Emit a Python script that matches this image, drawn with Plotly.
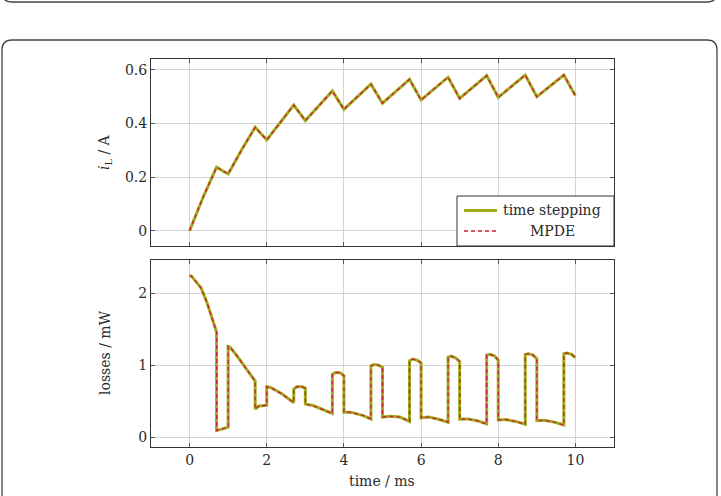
import plotly.graph_objects as go
from plotly.subplots import make_subplots

# ---------------- data ----------------
t_iL = [0.0, 0.35, 0.7, 1.0, 1.35, 1.7, 2.0, 2.7, 3.0, 3.7, 4.0, 4.7, 5.0,
        5.7, 6.0, 6.7, 7.0, 7.7, 8.0, 8.7, 9.0, 9.7, 10.0]
iL_ts = [0.0, 0.125, 0.237, 0.212, 0.302, 0.386, 0.339, 0.469, 0.411, 0.522,
         0.453, 0.547, 0.476, 0.565, 0.488, 0.573, 0.494, 0.579, 0.498, 0.581,
         0.500, 0.581, 0.504]
iL_mpde = [0.0, 0.125, 0.237, 0.212, 0.302, 0.386, 0.339, 0.469, 0.411, 0.522,
           0.453, 0.547, 0.476, 0.565, 0.488, 0.573, 0.494, 0.579, 0.498, 0.581,
           0.500, 0.581, 0.504]

t_loss = [0.0, 0.05, 0.15, 0.3, 0.45, 0.6, 0.7,
          0.7, 0.85, 1.0,
          1.0, 1.05, 1.2, 1.45, 1.7,
          1.7, 1.78, 2.0,
          2.0, 2.1, 2.4, 2.7,
          2.7, 2.78, 2.9, 3.0,
          3.0, 3.2, 3.5, 3.7,
          3.7, 3.78, 3.9, 4.0,
          4.0, 4.2, 4.5, 4.7,
          4.7, 4.78, 4.9, 5.0,
          5.0, 5.2, 5.45, 5.7,
          5.7, 5.78, 5.9, 6.0,
          6.0, 6.2, 6.45, 6.7,
          6.7, 6.78, 6.9, 7.0,
          7.0, 7.2, 7.45, 7.7,
          7.7, 7.78, 7.9, 8.0,
          8.0, 8.2, 8.45, 8.7,
          8.7, 8.78, 8.9, 9.0,
          9.0, 9.2, 9.45, 9.7,
          9.7, 9.78, 9.9, 10.0]
loss_ts = [2.245, 2.235, 2.17, 2.07, 1.87, 1.63, 1.46,
           0.093, 0.115, 0.14,
           1.26, 1.25, 1.15, 0.97, 0.78,
           0.39, 0.43, 0.445,
           0.70, 0.69, 0.60, 0.48,
           0.67, 0.70, 0.705, 0.68,
           0.46, 0.44, 0.38, 0.33,
           0.87, 0.90, 0.895, 0.855,
           0.35, 0.345, 0.30, 0.255,
           0.99, 1.01, 1.00, 0.97,
           0.28, 0.29, 0.28, 0.22,
           1.06, 1.085, 1.07, 1.03,
           0.27, 0.28, 0.25, 0.21,
           1.11, 1.125, 1.10, 1.05,
           0.25, 0.255, 0.23, 0.185,
           1.14, 1.15, 1.13, 1.07,
           0.24, 0.245, 0.22, 0.18,
           1.15, 1.16, 1.14, 1.09,
           0.23, 0.235, 0.21, 0.17,
           1.16, 1.17, 1.15, 1.105]
loss_mpde = list(loss_ts)

x_ticks = [0, 2, 4, 6, 8, 10]
y1_ticks = [0, 0.2, 0.4, 0.6]
y1_ticktext = ["0", "0.2", "0.4", "0.6"]
y2_ticks = [0, 1, 2]

# ---------------- style ----------------
W, H = 721, 496
FONT = "DejaVu Serif"
FS = 14
TXT = "#2a2a2a"
OLIVE = "#a2ab1e"
RED = "#c8202e"


def px(x):
    return x / W


def py(y):
    return 1 - y / H


fig = make_subplots(rows=2, cols=1, vertical_spacing=0.03)

fig.add_trace(go.Scatter(x=t_iL, y=iL_ts, mode="lines", name="time stepping",
                         line=dict(color=OLIVE, width=3), showlegend=False), row=1, col=1)
fig.add_trace(go.Scatter(x=t_iL, y=iL_mpde, mode="lines", name="MPDE",
                         line=dict(color=RED, width=1.3, dash="4px,3px"), showlegend=False), row=1, col=1)
fig.add_trace(go.Scatter(x=t_loss, y=loss_ts, mode="lines", name="time stepping",
                         line=dict(color=OLIVE, width=3), showlegend=False), row=2, col=1)
fig.add_trace(go.Scatter(x=t_loss, y=loss_mpde, mode="lines", name="MPDE",
                         line=dict(color=RED, width=1.3, dash="4px,3px"), showlegend=False), row=2, col=1)

axis_common = dict(showline=True, linecolor="#333333", linewidth=1, mirror="ticks",
                   ticks="inside", ticklen=4, tickcolor="#555555", tickwidth=1,
                   showgrid=True, gridcolor="#d4d4d4", gridwidth=1, zeroline=False,
                   tickfont=dict(family=FONT, size=FS, color=TXT))

xdom = [px(151), px(614)]
fig.update_xaxes(**axis_common, range=[-1, 11], tickvals=x_ticks, domain=xdom)
fig.update_xaxes(showticklabels=False, row=1, col=1)
fig.update_yaxes(**axis_common)
fig.update_yaxes(range=[-0.057, 0.641], tickvals=y1_ticks, ticktext=y1_ticktext,
                 domain=[py(246), py(59)], row=1, col=1)
fig.update_yaxes(range=[-0.135, 2.46], tickvals=y2_ticks,
                 domain=[py(447), py(260)], row=2, col=1)

shapes = []
# frame boxes (outer decoration)
r = 10
top_box = (f"M {px(2)},{py(-10)} L {px(2)},{py(2-r)} Q {px(2)},{py(2)} {px(2+r)},{py(2)} "
           f"L {px(717-r)},{py(2)} Q {px(717)},{py(2)} {px(717)},{py(2-r)} L {px(717)},{py(-10)}")
main_box = (f"M {px(2)},{py(510)} L {px(2)},{py(40+r)} Q {px(2)},{py(40)} {px(2+r)},{py(40)} "
            f"L {px(717-r)},{py(40)} Q {px(717)},{py(40)} {px(717)},{py(40+r)} L {px(717)},{py(510)}")
for p in (top_box, main_box):
    shapes.append(dict(type="path", path=p, xref="paper", yref="paper",
                       line=dict(color="#444444", width=1.3)))

# manual legend
shapes.append(dict(type="rect", xref="paper", yref="paper",
                   x0=px(457), x1=px(614), y0=py(246), y1=py(196),
                   fillcolor="white", line=dict(color="#333333", width=1), layer="above"))
shapes.append(dict(type="line", xref="paper", yref="paper",
                   x0=px(464), x1=px(497), y0=py(210.5), y1=py(210.5),
                   line=dict(color=OLIVE, width=3), layer="above"))
shapes.append(dict(type="line", xref="paper", yref="paper",
                   x0=px(464), x1=px(497), y0=py(231), y1=py(231),
                   line=dict(color=RED, width=1.3, dash="4px,3px"), layer="above"))

annotations = [
    dict(text="time stepping", x=px(552), y=py(210), xref="paper", yref="paper",
         showarrow=False, xanchor="center", yanchor="middle",
         font=dict(family=FONT, size=FS, color=TXT)),
    dict(text="MPDE", x=px(552), y=py(230.5), xref="paper", yref="paper",
         showarrow=False, xanchor="center", yanchor="middle",
         font=dict(family=FONT, size=FS, color=TXT)),
    dict(text="<i>i</i><sub>L</sub> / A", x=px(105), y=py(152), xref="paper", yref="paper",
         showarrow=False, xanchor="center", yanchor="middle", textangle=-90,
         font=dict(family=FONT, size=FS, color=TXT)),
    dict(text="losses / mW", x=px(105), y=py(353), xref="paper", yref="paper",
         showarrow=False, xanchor="center", yanchor="middle", textangle=-90,
         font=dict(family=FONT, size=FS, color=TXT)),
    dict(text="time / ms", x=px(382), y=py(481), xref="paper", yref="paper",
         showarrow=False, xanchor="center", yanchor="middle",
         font=dict(family=FONT, size=FS, color=TXT)),
]

fig.update_layout(width=W, height=H, margin=dict(l=0, r=0, t=0, b=0),
                  paper_bgcolor="white", plot_bgcolor="white",
                  shapes=shapes, annotations=annotations, showlegend=False)

fig.write_html("out.html")
